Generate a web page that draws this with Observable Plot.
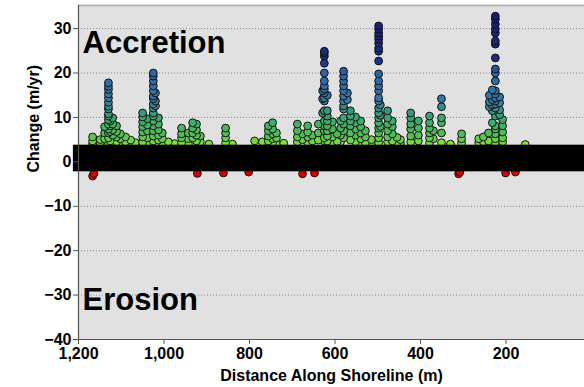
<!DOCTYPE html>
<html>
<head>
<meta charset="utf-8">
<script src="https://cdn.jsdelivr.net/npm/d3@7"></script>
<script src="https://cdn.jsdelivr.net/npm/@observablehq/plot@0.6"></script>
<style>
  html, body { margin: 0; padding: 0; background: #fff; }
  #chart svg { display: block; }
</style>
</head>
<body>
<div id="chart"></div>
<script>
// ---- data ----
const xTicks = [1200, 1000, 800, 600, 400, 200];
const yTicks = [30, 20, 10, 0, -10, -20, -30, -40];
const gridValues = [30, 20, 10, -10, -20, -30];
const xDomain = [1200, 16.5];
const yDomain = [-40, 35.2];

// transects: distance along shoreline (m) and the change rates (m/yr) stacked there
const colDistance = [
  1167, 1149, 1139, 1130, 1126, 1120, 1111, 1102, 1090, 1078, 1067, 1050, 1039, 1025, 1020,
  1013, 1004, 990, 975, 959, 943, 933, 924, 915, 895, 856, 840, 788, 770, 756, 746, 737, 720,
  688, 676, 664, 653, 639, 629, 625, 618, 606, 595, 587, 580, 571, 564, 552, 540, 529, 515,
  498, 494, 477, 466, 455, 447, 423, 405, 379, 370, 351, 330, 304, 264, 253, 241, 239, 232,
  225, 215, 208, 155
];
const colValues = [
  [5.6, 4.7, 4.0],
  [5.0, 4.3],
  [7.9, 6.5, 5.2],
  [17.8, 17.0, 16.3, 15.3, 14.4, 13.4, 12.5, 11.9, 10.8, 10.3, 9.5, 8.5, 7.4, 6.5, 5.4, 4.2],
  [9.2, 8.1, 6.8, 4.7],
  [9.9, 8.5, 7.2, 6.0, 4.5],
  [8.1, 6.8, 5.6, 4.5],
  [6.3, 5.2, 4.3],
  [5.6, 4.5],
  [4.9, 4.1],
  [4.3],
  [11.0, 10.1, 9.0, 7.9, 6.7, 5.6, 4.4],
  [9.7, 8.3, 7.0, 5.4, 4.2],
  [20.0, 19.3, 18.2, 17.1, 16.0, 14.8, 14.2, 13.0, 12.1, 11.0, 10.3, 9.2, 8.1, 7.0, 5.8, 4.7],
  [15.5, 13.7, 12.6],
  [9.9, 8.5, 7.2, 6.0, 4.9],
  [6.5, 5.2, 4.3],
  [4.5, 4.0],
  [4.1],
  [7.6, 6.3, 5.4, 4.3],
  [6.5, 5.2, 4.0],
  [8.8, 7.6, 6.5, 5.4],
  [8.5, 7.2, 6.0, 4.7],
  [5.8, 4.5],
  [4.0],
  [7.6, 6.5, 5.4, 4.3],
  [4.0],
  [4.7],
  [4.5],
  [8.1, 7.0, 5.8, 4.7],
  [8.8, 7.4, 6.3, 5.2, 4.3],
  [6.5, 5.4, 4.0],
  [4.2],
  [8.5, 7.0, 5.6, 4.5],
  [6.3, 5.0],
  [8.1, 6.7, 5.6, 4.3],
  [6.0, 4.7],
  [8.5, 6.5, 4.9],
  [16.0, 14.2, 11.0],
  [24.9, 24.5, 23.8, 22.2, 20.0, 18.2, 17.1, 16.4, 15.5, 14.4, 13.7, 11.5, 9.2, 8.1, 7.0, 5.4, 4.7],
  [15.0, 11.5, 10.3, 9.2, 8.1, 7.0, 5.8, 4.7],
  [9.0, 7.4, 5.6, 4.3],
  [6.3, 4.6],
  [9.2, 7.6, 6.0, 4.5],
  [20.4, 19.3, 18.2, 17.1, 16.0, 14.8, 13.7, 12.6, 11.9, 9.9, 8.5, 7.0, 5.4],
  [15.5, 14.0],
  [11.5, 10.3, 9.2, 8.1, 6.5, 4.9],
  [10.1, 8.8, 7.4, 6.0, 4.5],
  [9.2, 7.9, 6.5, 5.2, 4.0],
  [7.0, 5.6, 4.3],
  [5.0, 4.2],
  [30.6, 29.9, 29.0, 28.3, 27.6, 26.7, 25.6, 24.9, 22.7, 19.8, 18.2, 17.1, 16.0, 14.4, 13.7, 12.1, 11.0, 9.9, 8.8, 7.6, 6.5, 5.4, 4.3],
  [12.8, 10.5, 8.0],
  [11.5, 9.9, 8.5, 7.0, 5.6, 4.5],
  [9.2, 7.9, 6.3, 4.7],
  [5.5, 4.3],
  [5.0, 4.2],
  [11.0, 9.9, 8.5, 7.4, 5.8, 4.5],
  [9.2, 7.6, 6.0, 4.7],
  [10.3, 8.8, 7.6, 6.5, 5.4, 4.3],
  [7.0, 5.2],
  [14.2, 12.4, 9.9, 8.8, 6.5, 4.3],
  [4.0],
  [6.3, 5.2, 4.3],
  [5.2, 4.3],
  [5.6, 4.5],
  [6.5, 4.7],
  [15.0, 13.5, 12.4],
  [16.2, 14.0, 12.8, 11.5, 8.8],
  [32.8, 32.1, 31.0, 29.9, 29.0, 27.2, 26.5, 23.4, 20.9, 20.0, 18.2, 16.0, 15.3, 14.4, 13.7, 13.0, 12.1, 10.3, 8.1, 7.4, 6.3, 5.2, 4.3],
  [14.6, 13.3, 11.7, 10.6],
  [9.5, 8.1, 6.7, 5.4, 4.5],
  [3.9]
];

// erosion transects (negative change) peeking below the band
const erosionDistance = [1167, 1164, 922, 861, 802, 676, 648, 311, 308, 201, 178];
const erosionValues = [-3.2, -2.6, -2.6, -2.5, -2.3, -2.7, -2.5, -2.7, -2.3, -2.5, -2.3];

// opaque band hiding the near-zero transects
const bandDistance = [1212, 0];
const bandChange = [-2.25, 3.75];

// colour ramp of the change rate
const colorStops = [-4, 0, 3, 4.5, 6, 9, 11, 14, 20, 23, 33];
const colorRamp = ["#d40000", "#e00000", "#8ee830", "#78dc3c", "#52c055", "#3cae68", "#369a7c",
                   "#3278a8", "#2c64a4", "#1c2e84", "#141c72"];

const labels = {x: "Distance Along Shoreline (m)", y: "Change (m/yr)", top: "Accretion", bottom: "Erosion"};

// ---- build tables ----
const points = [];
colDistance.forEach((d, i) => colValues[i].forEach(v => points.push({distance: d, change: v})));
erosionDistance.forEach((d, i) => points.push({distance: d, change: erosionValues[i]}));
points.sort((a, b) => a.change - b.change);

const band = [{x1: bandDistance[0], x2: bandDistance[1], y1: bandChange[0], y2: bandChange[1]}];

const font = "'Liberation Sans', Arial, sans-serif";

const chart = Plot.plot({
  width: 584,
  height: 387,
  marginLeft: 78,
  marginRight: 0,
  marginTop: 5,
  marginBottom: 48,
  style: {fontFamily: font, background: "#ffffff", color: "#000"},
  x: {domain: xDomain, label: null},
  y: {domain: yDomain, label: null},
  color: {type: "linear", domain: colorStops, range: colorRamp, interpolate: "rgb"},
  marks: [
    Plot.frame({fill: "#e1e1e1", stroke: null}),
    Plot.gridY(gridValues, {stroke: "#8a8a8a", strokeOpacity: 1, strokeDasharray: "1,2", strokeWidth: 1}),
    Plot.ruleY([yDomain[1]], {stroke: "#b8b8b8", strokeWidth: 2}),
    Plot.dot(points, {x: "distance", y: "change", fill: "change", r: 3.9, stroke: "#111", strokeWidth: 1}),
    Plot.rect(band, {x1: "x1", x2: "x2", y1: "y1", y2: "y2", fill: "#000"}),
    Plot.ruleX([xDomain[0]], {stroke: "#555", strokeWidth: 1.2}),
    Plot.ruleY([yDomain[0]], {stroke: "#555", strokeWidth: 1.2}),
    Plot.axisX({ticks: xTicks, tickFormat: d3.format(","), tickSize: 5, tickPadding: 3,
                fontSize: 16, fontWeight: "bold", stroke: "#555", fill: "#000", label: null}),
    Plot.axisY({ticks: yTicks, tickSize: 5, tickPadding: 2,
                fontSize: 16, fontWeight: "bold", stroke: "#555", fill: "#000", label: null}),
    Plot.text([labels.x], {text: d => d, frameAnchor: "bottom", lineAnchor: "middle", dy: 36, fontSize: 16, fontWeight: "bold", fill: "#000"}),
    Plot.text([labels.y], {text: d => d, frameAnchor: "left", dx: -45, rotate: -90, fontSize: 16, fontWeight: "bold", fill: "#000"}),
    Plot.text([labels.top], {text: d => d, frameAnchor: "top-left", textAnchor: "start", lineAnchor: "middle", dx: 4, dy: 38, fontSize: 31, fontWeight: "bold", fill: "#000"}),
    Plot.text([labels.bottom], {text: d => d, frameAnchor: "bottom-left", textAnchor: "start", lineAnchor: "middle", dx: 4, dy: -39, fontSize: 31, fontWeight: "bold", fill: "#000"})
  ]
});
document.getElementById("chart").appendChild(chart);
</script>
</body>
</html>
